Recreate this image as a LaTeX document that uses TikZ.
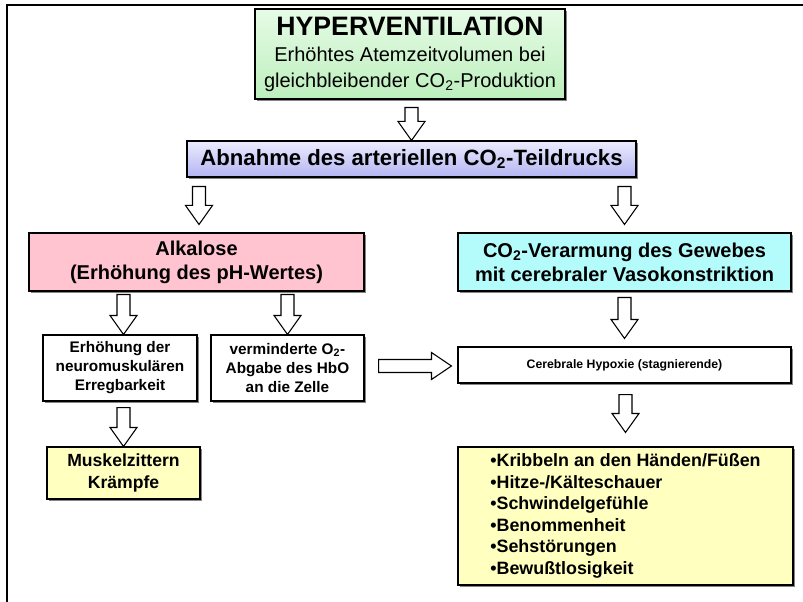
\documentclass[tikz,border=0pt]{standalone}
\usepackage{fontspec}
\setmainfont{Liberation Sans}
\usetikzlibrary{calc,shadows}
\definecolor{gtop}{HTML}{E6FBE6}
\definecolor{gbot}{HTML}{BDEFBD}
\definecolor{btop}{HTML}{ECECFF}
\definecolor{bbot}{HTML}{B4B4F2}
\definecolor{pinkfill}{HTML}{FFC4CF}
\definecolor{cyanfill}{HTML}{B4FCFC}
\definecolor{yelfill}{HTML}{FFFFC0}
\tikzset{
  box/.style={draw=black, line width=0.8pt, align=center, inner sep=0pt,
    drop shadow={shadow xshift=1.3pt, shadow yshift=-1.3pt, fill=black!60, opacity=0.8}},
  blockarr/.style={draw=black, fill=white, line width=0.8pt, line join=miter},
  frameline/.style={draw=black, line width=1.6pt},
}
\newcommand{\downarr}[2]{\draw[blockarr] let \p1=#1, \p2=#2 in
  (\x2-4.875pt,\y1) -- (\x2+4.875pt,\y1) -- (\x2+4.875pt,\y2+14.25pt) -- (\x2+10.125pt,\y2+14.25pt)
  -- (\x2,\y2) -- (\x2-10.125pt,\y2+14.25pt) -- (\x2-4.875pt,\y2+14.25pt) -- cycle;}
\newcommand{\rightarr}[2]{\draw[blockarr] let \p1=#1, \p2=#2 in
  (\x1,\y2+4.875pt) -- (\x2-15pt,\y2+4.875pt) -- (\x2-15pt,\y2+10.125pt) -- (\x2,\y2)
  -- (\x2-15pt,\y2-10.125pt) -- (\x2-15pt,\y2-4.875pt) -- (\x1,\y2-4.875pt) -- cycle;}
\begin{document}
\begin{tikzpicture}[x=0.75pt,y=-0.75pt]
\useasboundingbox (0,0) rectangle (803,602);
% frame
\coordinate (fbl) at (7,602);
\coordinate (ftl) at (7,5);
\coordinate (ftr) at (803,5);
\draw[frameline] (fbl) -- (ftl) -- (ftr);

\node[box, top color=gtop, bottom color=gbot, minimum width=232.5pt, minimum height=67.5pt,
  font=\fontsize{15pt}{19pt}\selectfont] (green) at (410,54)
  {{\fontsize{20pt}{22pt}\selectfont\bfseries HYPERVENTILATION}\\[1pt]Erhöhtes Atemzeitvolumen bei\\gleichbleibender CO\textsubscript{2}-Produktion};

\node[box, top color=btop, bottom color=bbot, minimum width=336.75pt, minimum height=27pt,
  font=\bfseries\fontsize{16.6pt}{19pt}\selectfont] (blue) at (411.5,159)
  {Abnahme des arteriellen CO\textsubscript{2}-Teildrucks};

\node[box, fill=pinkfill, minimum width=251.25pt, minimum height=43.5pt,
  font=\bfseries\fontsize{15pt}{18pt}\selectfont] (pink) at (196.5,262)
  {Alkalose\\(Erhöhung des pH-Wertes)};

\node[box, fill=cyanfill, minimum width=249.75pt, minimum height=43.5pt,
  font=\bfseries\fontsize{15pt}{18pt}\selectfont] (cyan) at (624.5,262)
  {CO\textsubscript{2}-Verarmung des Gewebes\\mit cerebraler Vasokonstriktion};

\node[box, fill=white, minimum width=115.5pt, minimum height=49.5pt,
  font=\bfseries\fontsize{11.5pt}{14.2pt}\selectfont] (erh) at (120,368)
  {Erhöhung der\\neuromuskulären\\Erregbarkeit};

\node[box, fill=white, minimum width=114.75pt, minimum height=49.5pt,
  font=\bfseries\fontsize{11.5pt}{14.2pt}\selectfont] (verm) at (287.5,368)
  {verminderte O\textsubscript{2}-\\Abgabe des HbO\\an die Zelle};

\node[box, fill=white, minimum width=249.75pt, minimum height=27pt,
  font=\bfseries\fontsize{9.2pt}{11pt}\selectfont] (hyp) at (624.5,365)
  {Cerebrale Hypoxie (stagnierende)};

\node[box, fill=yelfill, minimum width=114.75pt, minimum height=39pt,
  font=\bfseries\fontsize{13.2pt}{16.3pt}\selectfont] (musk) at (123.5,473)
  {Muskelzittern\\Krämpfe};

\node[box, fill=yelfill, minimum width=251.25pt, minimum height=103.5pt, align=left,
  font=\bfseries\fontsize{13.4pt}{16.1pt}\selectfont] (symp) at (625.5,516)
  {•Kribbeln an den Händen/Füßen\\•Hitze-/Kälteschauer\\•Schwindelgefühle\\•Benommenheit\\•Sehstörungen\\•Bewußtlosigkeit};

% block arrows
\downarr{($(green.south)+(0,8)$)}{(blue.north)}
\downarr{($(blue.south)+(0,9)$)}{($(pink.north)+(2.5,-8)$)}
\downarr{($(blue.south)+(0,9)$)}{($(cyan.north)+(0,-8)$)}
\downarr{($(pink.south)+(0,3)$)}{($(erh.north)+(3.5,0)$)}
\downarr{($(pink.south)+(0,3)$)}{(verm.north)}
\downarr{($(cyan.south)+(0,6)$)}{($(hyp.north)+(0,-8)$)}
\downarr{($(hyp.south)+(0,11)$)}{($(symp.north)+(0,-14)$)}
\downarr{($(erh.south)+(0,6)$)}{(musk.north)}
\rightarr{($(verm.east)+(14,0)$)}{($(hyp.west)+(-6,1)$)}
\end{tikzpicture}
\end{document}
